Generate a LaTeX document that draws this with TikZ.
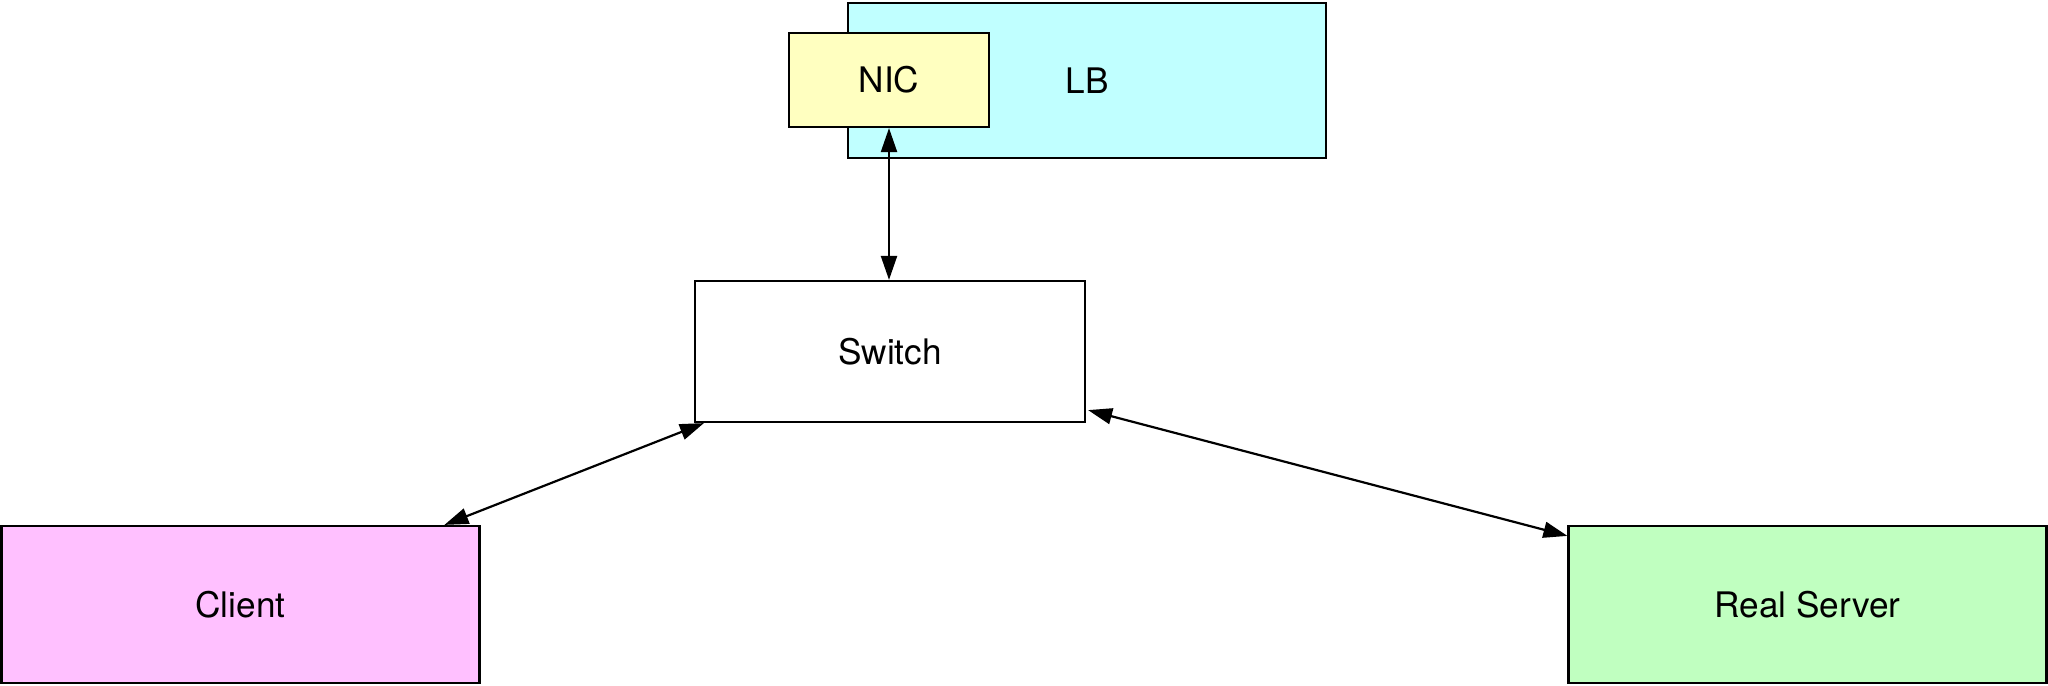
\documentclass[tikz,border=0pt]{standalone}
\usepackage{fontspec}
\setmainfont{TeX Gyre Heros}
\usetikzlibrary{arrows.meta,calc}
\definecolor{lbcol}{HTML}{C0FFFF}
\definecolor{niccol}{HTML}{FFFFC0}
\definecolor{clcol}{HTML}{FFC0FF}
\definecolor{rscol}{HTML}{C0FFC0}
\begin{document}
\begin{tikzpicture}[x=0.5pt,y=-0.5pt,
  box/.style={draw=black,line width=1.1pt,inner sep=0pt,font=\fontsize{17.6}{20}\selectfont},
  link/.style={line width=1.1pt,{Triangle[length=12pt,width=8pt]}-{Triangle[length=12pt,width=8pt]}}]
\useasboundingbox (0,0) rectangle (2048,685);
\node[box,fill=lbcol,minimum width=239pt,minimum height=77.5pt] (lb) at (1087,80.5) {LB};
\node[box,fill=niccol,minimum width=100pt,minimum height=47pt] (nic) at (889,80) {NIC};
\node[box,fill=white,minimum width=195pt,minimum height=70.5pt] (sw) at (890,351.5) {Switch};
\node[box,fill=clcol,minimum width=239pt,minimum height=78.5pt] (cl) at (240.5,604.5) {Client};
\node[box,fill=rscol,minimum width=239pt,minimum height=78.5pt] (rs) at (1807.5,604.5) {Real Server};
\draw[link] (nic.south) -- (nic.south |- sw.north);
\draw[link] ($(sw.south west)+(10,0)$) -- ($(cl.north west)+(444,0)$);
\draw[link] ($(sw.south east)+(2,-13)$) -- ($(rs.north west)+(0,11)$);
\end{tikzpicture}
\end{document}
